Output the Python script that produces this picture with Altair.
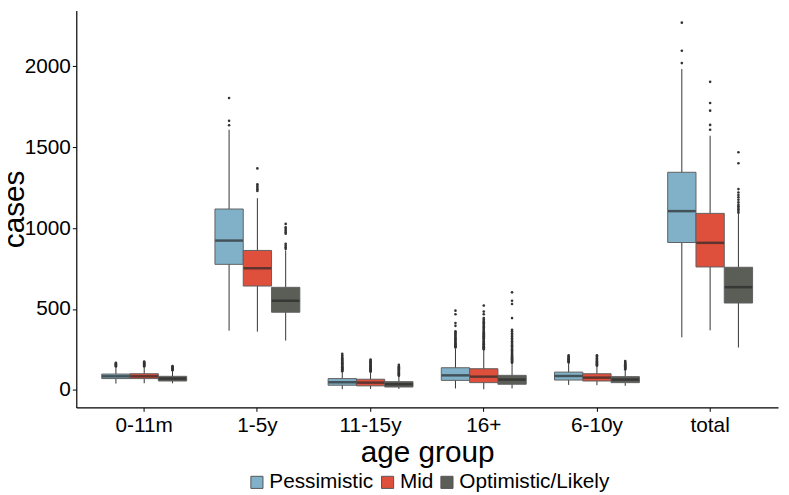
import altair as alt
import pandas as pd

groups = ["0-11m", "1-5y", "11-15y", "16+", "6-10y", "total"]
scenarios = ["Pessimistic", "Mid", "Optimistic/Likely"]
colors = ["#80B1C8", "#DE4F3C", "#5B5D57"]

# box statistics per scenario, in the order of `groups`
pess_low = [39, 366, 4, 9, 31, 325]
pess_q1 = [70, 776, 29, 59, 61, 911]
pess_med = [84, 923, 47, 90, 86, 1105]
pess_q3 = [98, 1118, 70, 137, 110, 1345]
pess_high = [140, 1608, 112, 255, 165, 1983]

mid_low = [41, 360, 6, 4, 29, 368]
mid_q1 = [70, 642, 25, 45, 55, 760]
mid_med = [84, 752, 45, 82, 76, 909]
mid_q3 = [100, 862, 66, 131, 100, 1091]
mid_high = [140, 1185, 108, 248, 145, 1571]

opt_low = [41, 305, 6, 9, 25, 262]
opt_q1 = [55, 480, 18, 35, 45, 537]
opt_med = [70, 551, 35, 64, 64, 635]
opt_q3 = [84, 634, 51, 90, 82, 758]
opt_high = [118, 862, 84, 165, 124, 1087]

# outliers
pess_out = {
    "0-11m": [145, 148, 151, 154, 157, 160, 164, 168],
    "1-5y": [1636, 1663, 1804],
    "11-15y": [116, 120, 124, 128, 132, 136, 140, 145, 150, 155, 160, 165, 170, 176, 182, 188, 195, 203, 212, 223],
    "16+": [262, 266, 270, 275, 280, 285, 290, 296, 302, 308, 314, 320, 327, 334, 341, 348, 355, 362, 396, 413, 468, 490],
    "6-10y": [170, 174, 178, 182, 186, 190, 195, 200, 207, 214],
    "total": [2020, 2096, 2270],
}
mid_out = {
    "0-11m": [145, 149, 153, 157, 161, 165, 170, 176],
    "1-5y": [1230, 1240, 1250, 1260, 1271, 1369],
    "11-15y": [113, 117, 121, 125, 129, 133, 137, 141, 146, 151, 156, 161, 166, 171, 176, 182, 188],
    "16+": [252, 256, 260, 264, 268, 272, 277, 282, 287, 292, 297, 302, 308, 314, 320, 326, 332, 338, 344, 350,
            357, 364, 371, 378, 386, 394, 402, 410, 418, 426, 435, 444, 468, 484, 521],
    "6-10y": [150, 154, 158, 162, 166, 170, 175, 180, 186, 192, 198, 206, 214],
    "total": [1608, 1638, 1726, 1773, 1904],
}
opt_out = {
    "0-11m": [122, 126, 130, 134, 138, 143, 147],
    "1-5y": [872, 882, 892, 903, 965, 975, 985, 995, 1005, 1026],
    "11-15y": [88, 92, 96, 100, 104, 108, 113, 118, 123, 128, 134, 140, 146, 155],
    "16+": [168, 172, 176, 180, 185, 190, 195, 200, 206, 212, 218, 224, 230, 237, 244, 252, 260, 268, 276, 284,
            292, 300, 310, 320, 330, 340, 350, 362, 372, 444, 531, 551, 603],
    "6-10y": [127, 131, 135, 139, 143, 147, 152, 157, 162, 167, 172, 178],
    "total": [1095, 1105, 1115, 1125, 1135, 1145, 1160, 1175, 1190, 1205, 1220, 1241, 1401, 1469],
}

stats_src = [
    ("Pessimistic", pess_low, pess_q1, pess_med, pess_q3, pess_high, pess_out),
    ("Mid", mid_low, mid_q1, mid_med, mid_q3, mid_high, mid_out),
    ("Optimistic/Likely", opt_low, opt_q1, opt_med, opt_q3, opt_high, opt_out),
]

rows, outs = [], []
for sc, lo, q1, md, q3, hi, ol in stats_src:
    for i, g in enumerate(groups):
        rows.append(dict(group=g, scenario=sc, lo=lo[i], q1=q1[i], med=md[i], q3=q3[i], hi=hi[i]))
        for v in ol[g]:
            outs.append(dict(group=g, scenario=sc, value=v))
stats = pd.DataFrame(rows)
outliers = pd.DataFrame(outs)

FONT = "Liberation Sans"

x_enc = alt.X(
    "group:N", sort=groups,
    scale=alt.Scale(paddingInner=0.25, paddingOuter=0.225),
    axis=alt.Axis(title="age group", labelAngle=0, labelFontSize=21, titleFontSize=30,
                  labelPadding=3, titlePadding=3, tickSize=4, grid=False,
                  labelFont=FONT, titleFont=FONT, titleFontWeight="normal",
                  labelColor="#000000", titleColor="#000000",
                  domainColor="#000000", domainWidth=1.2, tickColor="#000000"),
)
xo_enc = alt.XOffset("scenario:N", sort=scenarios, scale=alt.Scale(paddingInner=0, paddingOuter=0))
y_scale = alt.Scale(domain=[-108, 2345], nice=False, zero=False)
y_axis = alt.Axis(title="cases", values=[0, 500, 1000, 1500, 2000], format="d", labelFontSize=21,
                  titleFontSize=30, labelPadding=2, titlePadding=1, titleBaseline="alphabetic",
                  tickSize=4, grid=False,
                  labelFont=FONT, titleFont=FONT, titleFontWeight="normal",
                  labelColor="#000000", titleColor="#000000",
                  domainColor="#000000", domainWidth=1.2, tickColor="#000000")

base = alt.Chart(stats)

whiskers = base.mark_rule(color="#333333", strokeWidth=1).encode(
    x=x_enc, xOffset=xo_enc,
    y=alt.Y("lo:Q", scale=y_scale, axis=y_axis), y2="hi:Q",
)

boxes = base.mark_bar(stroke="#606060", strokeWidth=1, opacity=1).encode(
    x=x_enc, xOffset=xo_enc,
    y=alt.Y("q1:Q", scale=y_scale, axis=y_axis), y2="q3:Q",
    color=alt.Color(
        "scenario:N", sort=scenarios,
        scale=alt.Scale(domain=scenarios, range=colors),
        legend=alt.Legend(
            title=None, orient="none", legendX=172, legendY=466, direction="horizontal",
            symbolType="square", symbolSize=150, symbolStrokeColor="#555555", symbolStrokeWidth=1,
            symbolOpacity=1, labelFontSize=21, labelFont=FONT, labelColor="#000000",
            labelOffset=2, columnPadding=3, padding=0,
        ),
    ),
)

medians = base.mark_tick(color="#2a2a2a", thickness=2.5, size=28, orient="horizontal").encode(
    x=x_enc, xOffset=xo_enc,
    y=alt.Y("med:Q", scale=y_scale, axis=y_axis),
)

points = alt.Chart(outliers).mark_circle(size=7, color="#333333", opacity=1).encode(
    x=x_enc, xOffset=xo_enc,
    y=alt.Y("value:Q", scale=y_scale, axis=y_axis),
)

chart = alt.layer(whiskers, boxes, medians, points).properties(
    width=709, height=401,
    autosize=alt.AutoSizeParams(type="none"),
    padding={"left": 69, "top": 0, "right": 3, "bottom": 86},
    background="white",
).configure_view(strokeWidth=0, stroke="transparent")

chart.save("out.html", embed_options={"renderer": "svg", "actions": False})
